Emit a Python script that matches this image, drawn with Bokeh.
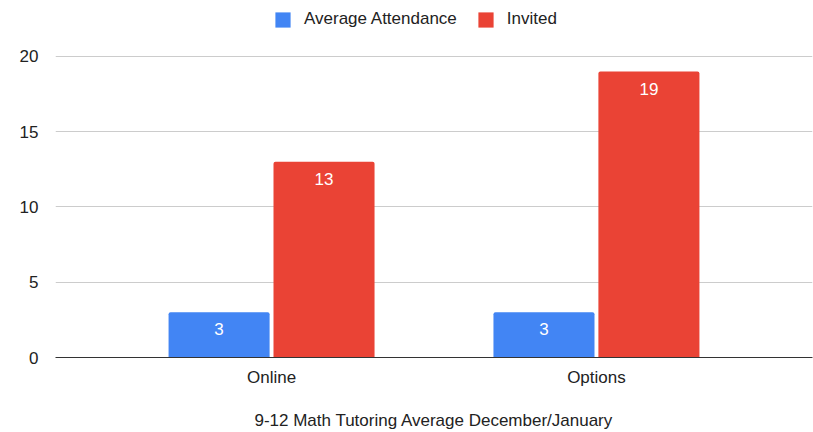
from bokeh.plotting import figure
from bokeh.models import ColumnDataSource, FactorRange, Range1d, FixedTicker, LabelSet, Legend, LegendItem
from bokeh.transform import dodge
from bokeh.core.properties import value
from bokeh.embed import file_html
from bokeh.resources import INLINE

categories = ["Online", "Options"]
series_names = ["Average Attendance", "Invited"]
attendance = [3, 3]
invited = [13, 19]
y_ticks = [0, 5, 10, 15, 20]
title_text = "9-12 Math Tutoring Average December/January"

source = ColumnDataSource(dict(cat=categories, att=attendance, inv=invited,
                               att_lbl=[str(v) for v in attendance],
                               inv_lbl=[str(v) for v in invited]))

FONT = "Liberation Sans"
BLUE = "#4285F4"
RED = "#EA4335"

p = figure(width=813, height=432, output_backend="svg", toolbar_location=None,
           x_range=FactorRange(factors=categories, range_padding=0.165, range_padding_units="absolute"),
           y_range=Range1d(0, 23.72))
p.min_border_left = 55
p.min_border_right = 1
p.min_border_top = 0
p.min_border_bottom = 75
p.outline_line_color = None

off = 0.1615
w = 0.311
r1 = p.vbar(x=dodge("cat", -off, range=p.x_range), top="att", width=w, source=source,
            fill_color=BLUE, line_color=None, border_radius=(2, 2, 0, 0))
r2 = p.vbar(x=dodge("cat", off, range=p.x_range), top="inv", width=w, source=source,
            fill_color=RED, line_color=None, border_radius=(2, 2, 0, 0))

for col, lbl, d in (("att", "att_lbl", -off), ("inv", "inv_lbl", off)):
    ls = LabelSet(x=dodge("cat", d, range=p.x_range), y=col, text=lbl, source=source,
                  y_offset=-17, text_align="center", text_baseline="middle",
                  text_color="white", text_font=value(FONT), text_font_size="17px")
    p.add_layout(ls)

# y axis
p.yaxis.ticker = FixedTicker(ticks=y_ticks)
p.yaxis.axis_line_color = None
p.yaxis.major_tick_line_color = None
p.yaxis.minor_tick_line_color = None
p.yaxis.major_label_standoff = 11
p.yaxis.major_label_text_font = FONT
p.yaxis.major_label_text_font_size = "17px"
p.yaxis.major_label_text_color = "#222222"

# x axis
p.xaxis.axis_line_color = "#333333"
p.xaxis.axis_line_width = 1
p.xaxis.major_tick_line_color = None
p.xaxis.minor_tick_line_color = None
p.xaxis.major_label_standoff = 4
p.xaxis.major_label_text_font = FONT
p.xaxis.major_label_text_font_size = "17px"
p.xaxis.major_label_text_color = "#222222"
p.xaxis.axis_label = title_text
p.xaxis.axis_label_standoff = 21
p.xaxis.axis_label_text_font = FONT
p.xaxis.axis_label_text_font_size = "17px"
p.xaxis.axis_label_text_font_style = "normal"
p.xaxis.axis_label_text_color = "#222222"

p.xgrid.grid_line_color = None
p.ygrid.ticker = FixedTicker(ticks=y_ticks)
p.ygrid.grid_line_color = "#CCCCCC"
p.ygrid.grid_line_width = 1

legend = Legend(items=[LegendItem(label=series_names[0], renderers=[r1]),
                       LegendItem(label=series_names[1], renderers=[r2])],
                orientation="horizontal", location=(218, 328),
                glyph_width=19, glyph_height=19, label_standoff=12, spacing=19,
                padding=0, margin=0, border_line_alpha=0, background_fill_alpha=0,
                label_text_font=FONT, label_text_font_size="17px", label_text_color="#222222",
                label_height=19)
p.add_layout(legend, "center")

open("out.html", "w").write(file_html(p, INLINE))
